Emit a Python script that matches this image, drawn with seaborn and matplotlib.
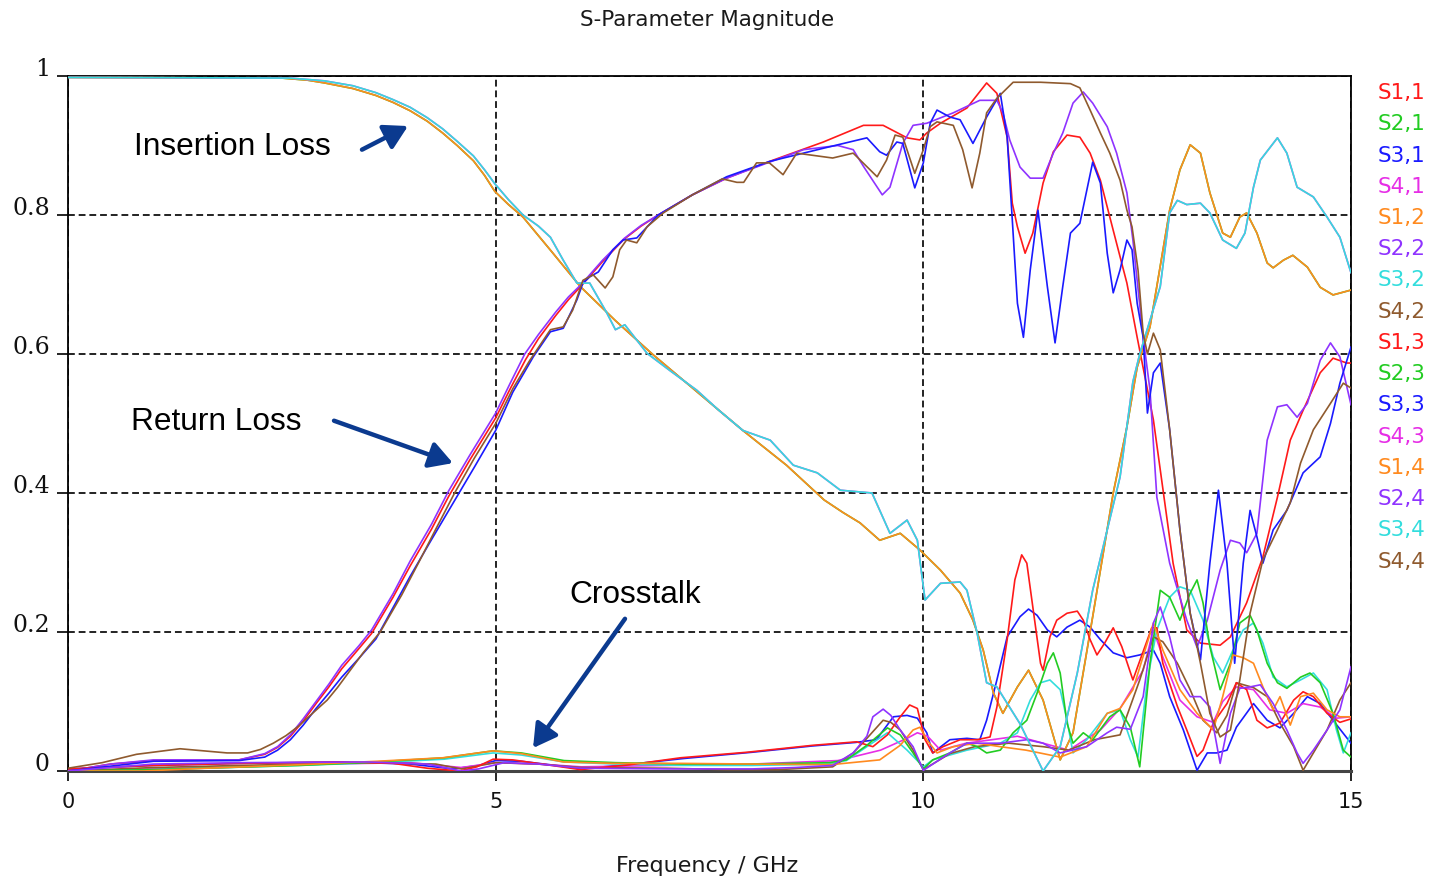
import matplotlib
matplotlib.use("Agg")
import matplotlib.pyplot as plt
import pandas as pd
import seaborn as sns

# ---- S-parameter magnitude traces: (frequency in GHz, |S|) ----
# Return loss
s11 = [(0, 0.0), (0.5, 0.01), (1.0, 0.015), (2.0, 0.016), (2.3, 0.024), (2.45, 0.034), (2.6, 0.05),
       (2.75, 0.072), (2.9, 0.097), (3.05, 0.121), (3.2, 0.147), (3.4, 0.176), (3.55, 0.198),
       (3.8, 0.25), (4.0, 0.295), (4.25, 0.348), (4.45, 0.395), (4.7, 0.448), (5.0, 0.508),
       (5.17, 0.55), (5.35, 0.592), (5.5, 0.622), (5.7, 0.655), (5.85, 0.678), (6.0, 0.698),
       (6.25, 0.733), (6.5, 0.765), (6.7, 0.784), (6.9, 0.8), (7.3, 0.829), (7.7, 0.853), (8.2, 0.877),
       (8.83, 0.905), (9.3, 0.929), (9.53, 0.929), (9.81, 0.911), (9.96, 0.908), (10.04, 0.918),
       (10.2, 0.932), (10.51, 0.954), (10.74, 0.99), (10.86, 0.975), (10.98, 0.912), (11.04, 0.817),
       (11.1, 0.783), (11.19, 0.745), (11.28, 0.774), (11.4, 0.846), (11.52, 0.891), (11.68, 0.915),
       (11.83, 0.912), (11.95, 0.889), (12.07, 0.85), (12.22, 0.778), (12.38, 0.702), (12.5, 0.624),
       (12.69, 0.505), (12.92, 0.299), (13.08, 0.203), (13.24, 0.184), (13.47, 0.181), (13.59, 0.193),
       (13.78, 0.242), (13.97, 0.308), (14.14, 0.394), (14.29, 0.476), (14.44, 0.519), (14.64, 0.573),
       (14.79, 0.594), (14.95, 0.587), (15.0, 0.587)]
s22 = [(0, 0.0), (0.5, 0.01), (1.0, 0.016), (2.0, 0.016), (2.3, 0.025), (2.45, 0.035), (2.6, 0.052),
       (2.75, 0.075), (2.9, 0.1), (3.05, 0.125), (3.2, 0.152), (3.4, 0.18), (3.55, 0.203),
       (3.8, 0.255), (4.0, 0.302), (4.25, 0.355), (4.45, 0.403), (4.7, 0.455), (5.0, 0.515),
       (5.17, 0.558), (5.34, 0.6), (5.5, 0.628), (5.7, 0.66), (5.85, 0.682), (6.0, 0.7), (6.25, 0.735),
       (6.5, 0.766), (6.7, 0.785), (6.9, 0.8), (7.3, 0.829), (7.7, 0.853), (8.2, 0.876), (8.6, 0.894),
       (9.0, 0.9), (9.18, 0.894), (9.3, 0.87), (9.52, 0.829), (9.61, 0.84), (9.76, 0.903), (9.88, 0.929),
       (10.04, 0.932), (10.35, 0.947), (10.66, 0.965), (10.86, 0.965), (10.93, 0.947), (11.01, 0.908),
       (11.13, 0.869), (11.25, 0.853), (11.4, 0.853), (11.52, 0.889), (11.63, 0.918), (11.75, 0.961),
       (11.87, 0.977), (11.98, 0.961), (12.15, 0.927), (12.26, 0.889), (12.38, 0.832), (12.45, 0.764),
       (12.57, 0.624), (12.65, 0.548), (12.73, 0.394), (12.88, 0.299), (13.08, 0.217), (13.2, 0.178),
       (13.32, 0.217), (13.47, 0.289), (13.59, 0.332), (13.7, 0.328), (13.78, 0.314), (13.9, 0.342),
       (14.02, 0.476), (14.14, 0.524), (14.25, 0.527), (14.37, 0.509), (14.49, 0.529), (14.64, 0.591),
       (14.76, 0.616), (14.87, 0.596), (15.0, 0.527)]
s33 = [(0, 0.0), (1.0, 0.014), (2.0, 0.015), (2.3, 0.02), (2.45, 0.03), (2.6, 0.045), (2.75, 0.066),
       (2.9, 0.09), (3.05, 0.112), (3.2, 0.135), (3.4, 0.162), (3.6, 0.19), (3.8, 0.235), (4.0, 0.28),
       (4.25, 0.333), (4.5, 0.385), (4.75, 0.437), (5.0, 0.49), (5.2, 0.545), (5.44, 0.596),
       (5.64, 0.632), (5.79, 0.637), (5.95, 0.678), (6.02, 0.702), (6.1, 0.711), (6.2, 0.718),
       (6.37, 0.75), (6.49, 0.764), (6.65, 0.767), (6.9, 0.8), (7.3, 0.829), (7.7, 0.855), (8.2, 0.877),
       (8.83, 0.896), (9.34, 0.911), (9.49, 0.891), (9.57, 0.886), (9.69, 0.905), (9.76, 0.903),
       (9.9, 0.839), (10.0, 0.875), (10.08, 0.932), (10.16, 0.951), (10.31, 0.941), (10.43, 0.937),
       (10.58, 0.903), (10.74, 0.941), (10.9, 0.975), (10.98, 0.912), (11.04, 0.793), (11.1, 0.673),
       (11.17, 0.624), (11.25, 0.721), (11.34, 0.807), (11.45, 0.697), (11.54, 0.616), (11.63, 0.697),
       (11.72, 0.774), (11.83, 0.788), (11.98, 0.876), (12.07, 0.846), (12.15, 0.745), (12.22, 0.688),
       (12.3, 0.721), (12.38, 0.764), (12.44, 0.75), (12.5, 0.673), (12.57, 0.624), (12.62, 0.515),
       (12.69, 0.573), (12.77, 0.587), (12.88, 0.491), (13.0, 0.347), (13.12, 0.227), (13.24, 0.16),
       (13.35, 0.299), (13.45, 0.404), (13.55, 0.299), (13.64, 0.155), (13.74, 0.299), (13.82, 0.375),
       (13.9, 0.337), (13.97, 0.299), (14.09, 0.347), (14.25, 0.375), (14.44, 0.429), (14.64, 0.452),
       (14.76, 0.5), (14.87, 0.558), (15.0, 0.61)]
s44 = [(0, 0.004), (0.4, 0.012), (0.8, 0.024), (1.31, 0.032), (1.86, 0.026), (2.1, 0.026), (2.25, 0.031),
       (2.4, 0.04), (2.55, 0.051), (2.7, 0.065), (2.85, 0.082), (3.03, 0.102), (3.15, 0.12),
       (3.3, 0.145), (3.45, 0.17), (3.65, 0.2), (3.9, 0.253), (4.1, 0.3), (4.3, 0.348), (4.52, 0.4),
       (4.75, 0.45), (5.0, 0.5), (5.2, 0.55), (5.4, 0.591), (5.64, 0.635), (5.79, 0.639), (5.9, 0.663),
       (6.02, 0.706), (6.14, 0.714), (6.28, 0.695), (6.37, 0.711), (6.45, 0.75), (6.53, 0.764),
       (6.65, 0.76), (6.77, 0.783), (6.96, 0.803), (7.3, 0.829), (7.65, 0.852), (7.82, 0.847),
       (7.9, 0.847), (8.05, 0.875), (8.2, 0.875), (8.36, 0.858), (8.52, 0.889), (8.94, 0.882),
       (9.18, 0.889), (9.46, 0.855), (9.57, 0.879), (9.67, 0.915), (9.76, 0.912), (9.9, 0.86),
       (10.0, 0.894), (10.08, 0.927), (10.16, 0.934), (10.35, 0.929), (10.46, 0.894), (10.57, 0.839),
       (10.66, 0.889), (10.74, 0.947), (10.86, 0.968), (11.05, 0.991), (11.37, 0.991), (11.72, 0.989),
       (11.83, 0.983), (11.95, 0.951), (12.07, 0.918), (12.18, 0.889), (12.3, 0.85), (12.38, 0.807),
       (12.44, 0.783), (12.51, 0.721), (12.57, 0.63), (12.62, 0.6), (12.69, 0.63), (12.77, 0.606),
       (12.88, 0.491), (13.0, 0.347), (13.12, 0.227), (13.24, 0.155), (13.35, 0.083), (13.47, 0.049),
       (13.59, 0.059), (13.7, 0.131), (13.82, 0.227), (13.97, 0.304), (14.14, 0.347), (14.29, 0.386),
       (14.41, 0.443), (14.56, 0.491), (14.76, 0.529), (14.91, 0.558), (15.0, 0.551)]

# Insertion loss (reciprocal pairs share one trace)
s12 = [(0, 0.998), (2.5, 0.997), (2.8, 0.994), (3.0, 0.99), (3.33, 0.982), (3.6, 0.972), (3.8, 0.962),
       (4.0, 0.95), (4.2, 0.935), (4.38, 0.918), (4.55, 0.9), (4.74, 0.878), (4.87, 0.857),
       (4.99, 0.834), (5.15, 0.815), (5.32, 0.797), (5.65, 0.748), (5.99, 0.697), (6.4, 0.648),
       (6.84, 0.599), (7.35, 0.546), (7.89, 0.49), (8.4, 0.44), (8.84, 0.39), (9.06, 0.372),
       (9.26, 0.357), (9.49, 0.332), (9.73, 0.342), (9.96, 0.318), (10.2, 0.289), (10.43, 0.256),
       (10.58, 0.217), (10.7, 0.174), (10.82, 0.112), (10.93, 0.083), (11.1, 0.121), (11.23, 0.145),
       (11.4, 0.102), (11.6, 0.016), (11.75, 0.055), (11.98, 0.222), (12.22, 0.4), (12.38, 0.495),
       (12.5, 0.581), (12.65, 0.639), (12.88, 0.807), (13.0, 0.865), (13.12, 0.901), (13.24, 0.889),
       (13.35, 0.832), (13.5, 0.774), (13.59, 0.768), (13.7, 0.797), (13.78, 0.803), (13.9, 0.774),
       (14.02, 0.731), (14.09, 0.724), (14.21, 0.735), (14.32, 0.742), (14.49, 0.725), (14.64, 0.696),
       (14.79, 0.685), (15.0, 0.692)]
s34 = [(0, 0.998), (2.6, 0.997), (2.8, 0.995), (3.0, 0.993), (3.33, 0.986), (3.6, 0.976), (3.8, 0.966),
       (4.0, 0.955), (4.2, 0.94), (4.38, 0.924), (4.55, 0.906), (4.74, 0.885), (4.87, 0.865),
       (4.99, 0.845), (5.15, 0.822), (5.32, 0.8), (5.5, 0.784), (5.64, 0.768), (5.79, 0.735),
       (5.95, 0.702), (6.1, 0.702), (6.3, 0.659), (6.4, 0.635), (6.51, 0.642), (6.65, 0.62),
       (6.77, 0.601), (7.05, 0.575), (7.35, 0.548), (7.6, 0.52), (7.89, 0.49), (8.21, 0.476),
       (8.48, 0.44), (8.76, 0.429), (9.03, 0.404), (9.4, 0.4), (9.61, 0.342), (9.81, 0.361),
       (9.93, 0.332), (10.02, 0.246), (10.2, 0.27), (10.43, 0.272), (10.51, 0.26), (10.63, 0.198),
       (10.74, 0.127), (10.86, 0.121), (11.13, 0.068), (11.4, 0.0), (11.6, 0.035), (11.8, 0.141),
       (11.98, 0.26), (12.15, 0.347), (12.3, 0.423), (12.45, 0.56), (12.53, 0.6), (12.77, 0.697),
       (12.88, 0.803), (12.97, 0.821), (13.08, 0.815), (13.24, 0.817), (13.35, 0.803), (13.5, 0.764),
       (13.66, 0.752), (13.76, 0.774), (13.86, 0.84), (13.94, 0.879), (14.14, 0.911), (14.25, 0.889),
       (14.37, 0.84), (14.56, 0.826), (14.72, 0.797), (14.87, 0.768), (15.0, 0.717)]

# Crosstalk
s13 = [(0, 0.003), (1.0, 0.008), (2.0, 0.011), (3.2, 0.013), (3.8, 0.011), (4.2, 0.004), (4.58, 0.0),
       (4.78, 0.006), (4.97, 0.017), (5.2, 0.016), (5.6, 0.009), (5.99, 0.002), (6.57, 0.009),
       (7.16, 0.019), (7.94, 0.027), (8.71, 0.037), (9.22, 0.042), (9.41, 0.035), (9.58, 0.052),
       (9.73, 0.078), (9.84, 0.095), (9.93, 0.09), (10.02, 0.045), (10.11, 0.026), (10.23, 0.035),
       (10.43, 0.045), (10.63, 0.045), (10.78, 0.049), (10.86, 0.092), (10.98, 0.189), (11.07, 0.275),
       (11.15, 0.311), (11.21, 0.299), (11.28, 0.236), (11.37, 0.155), (11.4, 0.145), (11.48, 0.193),
       (11.56, 0.217), (11.68, 0.227), (11.8, 0.23), (11.87, 0.217), (11.95, 0.189), (12.03, 0.167),
       (12.12, 0.184), (12.22, 0.206), (12.32, 0.179), (12.45, 0.131), (12.67, 0.206), (12.73, 0.206),
       (12.8, 0.155), (12.97, 0.093), (13.08, 0.059), (13.2, 0.021), (13.27, 0.03), (13.39, 0.069),
       (13.55, 0.097), (13.66, 0.127), (13.78, 0.117), (13.9, 0.073), (14.02, 0.062), (14.17, 0.069),
       (14.33, 0.102), (14.44, 0.114), (14.56, 0.107), (14.72, 0.083), (14.87, 0.07), (15.0, 0.075)]
s31 = [(0, 0.003), (1.0, 0.008), (2.0, 0.011), (3.2, 0.013), (4.0, 0.01), (4.5, 0.003), (4.8, 0.008),
       (5.0, 0.015), (5.3, 0.014), (5.7, 0.008), (6.0, 0.003), (6.6, 0.01), (7.2, 0.018), (8.0, 0.027),
       (8.7, 0.036), (9.2, 0.041), (9.45, 0.045), (9.65, 0.078), (9.81, 0.08), (9.93, 0.076),
       (10.04, 0.055), (10.11, 0.026), (10.31, 0.045), (10.51, 0.047), (10.66, 0.045), (10.74, 0.073),
       (10.86, 0.131), (10.98, 0.193), (11.13, 0.222), (11.23, 0.233), (11.33, 0.224), (11.45, 0.203),
       (11.56, 0.193), (11.68, 0.207), (11.83, 0.217), (11.95, 0.207), (12.07, 0.189), (12.22, 0.17),
       (12.38, 0.163), (12.53, 0.167), (12.69, 0.174), (12.77, 0.155), (12.88, 0.107), (13.04, 0.059),
       (13.2, 0.001), (13.32, 0.026), (13.43, 0.026), (13.55, 0.03), (13.66, 0.063), (13.86, 0.097),
       (14.02, 0.073), (14.17, 0.062), (14.33, 0.083), (14.49, 0.107), (14.64, 0.097), (14.79, 0.073),
       (15.0, 0.04)]
s14 = [(0, 0.0), (0.88, 0.0), (1.62, 0.004), (2.71, 0.009), (3.61, 0.014), (4.38, 0.019), (4.97, 0.029),
       (5.3, 0.025), (5.79, 0.013), (6.37, 0.011), (7.16, 0.011), (8.91, 0.009), (9.49, 0.016),
       (9.73, 0.037), (9.88, 0.059), (9.96, 0.063), (10.04, 0.045), (10.16, 0.026), (10.35, 0.035),
       (10.63, 0.04), (10.9, 0.035), (11.2, 0.03), (11.6, 0.02), (11.91, 0.035), (12.15, 0.083),
       (12.3, 0.09), (12.45, 0.117), (12.69, 0.213), (12.8, 0.174), (13.0, 0.117), (13.2, 0.083),
       (13.39, 0.059), (13.5, 0.107), (13.62, 0.167), (13.74, 0.163), (13.86, 0.155), (13.97, 0.121),
       (14.09, 0.088), (14.17, 0.107), (14.29, 0.066), (14.41, 0.107), (14.56, 0.112), (14.72, 0.088),
       (14.87, 0.078), (15.0, 0.078)]
s41 = [(0, 0.0), (1.0, 0.003), (2.0, 0.006), (3.0, 0.01), (4.0, 0.012), (4.6, 0.005), (5.0, 0.012),
       (5.5, 0.01), (6.0, 0.006), (7.0, 0.008), (8.0, 0.01), (9.0, 0.015), (9.5, 0.03), (9.81, 0.047),
       (9.93, 0.055), (10.05, 0.05), (10.2, 0.03), (10.5, 0.04), (10.8, 0.045), (11.1, 0.05),
       (11.4, 0.04), (11.7, 0.03), (12.07, 0.059), (12.3, 0.09), (12.57, 0.145), (12.69, 0.203),
       (12.8, 0.164), (13.0, 0.102), (13.2, 0.078), (13.39, 0.07), (13.5, 0.1), (13.66, 0.121),
       (13.86, 0.117), (14.05, 0.088), (14.25, 0.083), (14.44, 0.097), (14.64, 0.092), (14.83, 0.076),
       (15.0, 0.078)]
s23 = [(0, 0.0), (1.0, 0.002), (2.7, 0.008), (3.6, 0.013), (4.4, 0.019), (4.97, 0.029), (5.3, 0.026),
       (5.8, 0.015), (6.4, 0.012), (7.2, 0.01), (8.0, 0.01), (8.9, 0.012), (9.1, 0.016), (9.34, 0.037),
       (9.58, 0.062), (9.73, 0.052), (9.88, 0.026), (10.0, 0.003), (10.11, 0.016), (10.31, 0.026),
       (10.51, 0.04), (10.63, 0.035), (10.74, 0.026), (10.9, 0.03), (11.05, 0.055), (11.21, 0.073),
       (11.33, 0.112), (11.45, 0.155), (11.52, 0.17), (11.6, 0.141), (11.68, 0.069), (11.75, 0.04),
       (11.87, 0.055), (11.98, 0.045), (12.18, 0.078), (12.3, 0.088), (12.42, 0.063), (12.53, 0.006),
       (12.65, 0.155), (12.77, 0.26), (12.88, 0.25), (13.0, 0.217), (13.12, 0.256), (13.2, 0.275),
       (13.27, 0.242), (13.35, 0.179), (13.47, 0.117), (13.59, 0.155), (13.7, 0.213), (13.82, 0.224),
       (13.9, 0.203), (14.02, 0.155), (14.14, 0.127), (14.25, 0.119), (14.41, 0.135), (14.52, 0.141),
       (14.64, 0.127), (14.79, 0.083), (14.91, 0.03), (15.0, 0.02)]
s32 = [(0, 0.0), (1.0, 0.002), (2.7, 0.008), (3.6, 0.012), (4.4, 0.017), (4.97, 0.026), (5.3, 0.023),
       (5.8, 0.013), (6.4, 0.01), (7.2, 0.008), (8.0, 0.008), (8.9, 0.01), (9.1, 0.015), (9.34, 0.035),
       (9.58, 0.055), (9.81, 0.03), (10.0, 0.006), (10.11, 0.016), (10.51, 0.03), (10.9, 0.04),
       (11.1, 0.055), (11.25, 0.102), (11.37, 0.127), (11.48, 0.131), (11.6, 0.117), (11.68, 0.073),
       (11.75, 0.026), (11.91, 0.045), (12.15, 0.083), (12.3, 0.088), (12.42, 0.045), (12.51, 0.02),
       (12.62, 0.131), (12.73, 0.203), (12.88, 0.25), (13.0, 0.265), (13.12, 0.26), (13.27, 0.217),
       (13.39, 0.164), (13.5, 0.141), (13.62, 0.174), (13.74, 0.203), (13.86, 0.213), (13.97, 0.184),
       (14.09, 0.135), (14.25, 0.121), (14.41, 0.131), (14.56, 0.141), (14.72, 0.117), (14.83, 0.059),
       (14.91, 0.026), (15.0, 0.055)]
s24 = [(0, 0.0), (0.3, 0.003), (1.0, 0.01), (2.0, 0.012), (3.5, 0.013), (4.2, 0.01), (4.6, 0.0),
       (4.8, 0.003), (5.1, 0.012), (5.5, 0.01), (6.0, 0.004), (7.0, 0.003), (8.0, 0.003), (8.5, 0.005),
       (8.94, 0.008), (9.18, 0.026), (9.34, 0.05), (9.41, 0.078), (9.53, 0.089), (9.62, 0.08),
       (9.73, 0.059), (9.88, 0.035), (10.0, 0.001), (10.31, 0.026), (10.51, 0.04), (10.9, 0.04),
       (11.21, 0.045), (11.4, 0.04), (11.6, 0.026), (11.91, 0.035), (12.15, 0.055), (12.26, 0.063),
       (12.42, 0.06), (12.57, 0.107), (12.69, 0.213), (12.77, 0.236), (12.88, 0.193), (13.0, 0.131),
       (13.12, 0.107), (13.24, 0.107), (13.35, 0.092), (13.47, 0.011), (13.59, 0.083), (13.7, 0.119),
       (13.82, 0.121), (13.94, 0.124), (14.09, 0.097), (14.25, 0.059), (14.37, 0.026), (14.44, 0.011),
       (14.56, 0.03), (14.72, 0.059), (14.87, 0.088), (15.0, 0.15)]
s42 = [(0, 0.0), (1.0, 0.005), (2.0, 0.008), (3.5, 0.012), (4.3, 0.01), (4.6, 0.003), (5.0, 0.012),
       (5.5, 0.01), (6.0, 0.005), (7.0, 0.004), (7.7, 0.002), (8.3, 0.002), (8.94, 0.006), (9.18, 0.026),
       (9.34, 0.047), (9.53, 0.073), (9.62, 0.07), (9.73, 0.059), (9.88, 0.03), (10.0, 0.002),
       (10.31, 0.025), (10.6, 0.035), (11.0, 0.04), (11.4, 0.035), (11.7, 0.03), (12.0, 0.045),
       (12.3, 0.052), (12.53, 0.131), (12.69, 0.193), (12.8, 0.186), (12.97, 0.155), (13.12, 0.117),
       (13.27, 0.073), (13.43, 0.055), (13.55, 0.08), (13.66, 0.127), (13.86, 0.12), (14.02, 0.107),
       (14.17, 0.069), (14.33, 0.035), (14.44, 0.001), (14.56, 0.026), (14.72, 0.059), (14.87, 0.102),
       (15.0, 0.127)]

# Drawing order and colours (column by column, as in the legend)
labels = ["S1,1", "S2,1", "S3,1", "S4,1", "S1,2", "S2,2", "S3,2", "S4,2",
          "S1,3", "S2,3", "S3,3", "S4,3", "S1,4", "S2,4", "S3,4", "S4,4"]
traces = [s11, s12, s31, s41, s12, s22, s32, s42,
          s13, s23, s33, s34, s14, s24, s34, s44]
colors = ["#FF1A1A", "#22CC22", "#1A1AFF", "#E62EE6", "#FF8A1F", "#8F33FF", "#33DDDD", "#8F5A2E",
          "#FF1A1A", "#22CC22", "#1A1AFF", "#E62EE6", "#FF8A1F", "#8F33FF", "#33DDDD", "#8F5A2E"]

W, H = 1437, 883
fig = plt.figure(figsize=(W / 100, H / 100), dpi=100)
ax = fig.add_axes([68 / W, 1 - 771 / H, (1351 - 68) / W, (771 - 76) / H])

for name, pts, col in zip(labels, traces, colors):
    df = pd.DataFrame(pts, columns=["freq", "mag"])
    sns.lineplot(data=df, x="freq", y="mag", ax=ax, color=col, lw=1.2,
                 sort=False, estimator=None, legend=False, zorder=3)

ax.set_xlim(0, 15)
ax.set_ylim(0, 1)
ax.set_xlabel("")
ax.set_ylabel("")
ax.set_xticks([0, 5, 10, 15])
ax.set_xticklabels(["0", "5", "10", "15"], fontsize=15, family="DejaVu Sans", color="#111111")
ax.set_yticks([0, 0.2, 0.4, 0.6, 0.8, 1.0])
ax.set_yticklabels(["0", "0.2", "0.4", "0.6", "0.8", "1"], fontsize=17, family="DejaVu Serif",
                   va="baseline", color="#111111")
ax.tick_params(axis="y", length=8, width=1.2, pad=5, direction="out")
ax.tick_params(axis="x", length=7, width=1.2, pad=8, direction="out")

ax.set_axisbelow(True)
ax.grid(True, color="#222222", lw=1.4, ls=(0, (3.5, 2)))
for side in ["top", "right", "left", "bottom"]:
    ax.spines[side].set_color("black")
    ax.spines[side].set_linewidth(1.3)
ax.spines["bottom"].set_color("#444444")
ax.spines["bottom"].set_linewidth(2.2)

# Titles
fig.text(707 / W, 1 - 20 / H, "S-Parameter Magnitude", ha="center", va="center",
         fontsize=15.5, color="#1a1a1a")
fig.text(707 / W, 1 - 866 / H, "Frequency / GHz", ha="center", va="center",
         fontsize=16, color="#1a1a1a")

# Colour-coded trace names
for i, (name, col) in enumerate(zip(labels, colors)):
    fig.text(1378 / W, 1 - (93 + i * 31.25) / H, name, color=col, ha="left", va="center",
             fontsize=15.5)

# Annotations
navy = "#0B3A8F"
arrow = dict(arrowstyle="-|>,head_length=0.7,head_width=0.4", color=navy, lw=3.2,
             shrinkA=0, shrinkB=0, mutation_scale=20)
ax.text(0.77, 0.886, "Insertion Loss", fontsize=22.8, family="Liberation Sans", va="baseline")
ax.annotate("", xy=(3.975, 0.928), xytext=(3.437, 0.894), arrowprops=arrow)
ax.text(0.737, 0.491, "Return Loss", fontsize=22.8, family="Liberation Sans", va="baseline")
ax.annotate("", xy=(4.50, 0.443), xytext=(3.11, 0.504), arrowprops=arrow)
ax.text(5.858, 0.242, "Crosstalk", fontsize=22.8, family="Liberation Sans", va="baseline")
ax.annotate("", xy=(5.437, 0.033), xytext=(6.512, 0.219), arrowprops=arrow)

fig.savefig("out.png", dpi=100)
